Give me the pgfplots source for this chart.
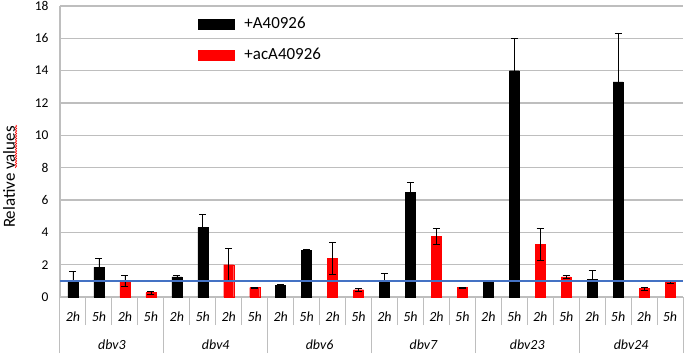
\documentclass[border=0pt]{standalone}
\usepackage{pgfplots}
\pgfplotsset{compat=1.18}
\usepackage{fontspec}
\setmainfont{Carlito}
\usetikzlibrary{decorations.pathmorphing}
\definecolor{gridgray}{RGB}{190,190,190}
\definecolor{xlblue}{RGB}{68,114,196}
\definecolor{xlred}{RGB}{255,0,0}
\pgfplotsset{rectlegend/.style={legend image code/.code={\fill[##1] (0bp,-5bp) rectangle (36bp,5bp);}}}
\begin{document}
\begin{tikzpicture}
\useasboundingbox (-60bp,-58bp) rectangle (625bp,297bp);
\begin{axis}[
  at={(0,0)}, anchor=south west,
  scale only axis, width=623bp, height=291bp,
  xmin=0.5, xmax=24.5, ymin=0, ymax=18,
  clip=false,
  ytick={0,2,...,18},
  ymajorgrids, grid style={gridgray, line width=1.2bp},
  axis x line*=bottom, axis y line*=left,
  x axis line style={draw=none},
  y axis line style={gridgray, line width=1.2bp, -},
  ytick style={draw=none},
  /pgf/number format/assume math mode=true,
  yticklabel style={font=\fontsize{13.5}{13.5}\selectfont, xshift=-8bp},
  xtick={1,...,24},
  xticklabels={2h,5h,2h,5h,2h,5h,2h,5h,2h,5h,2h,5h,2h,5h,2h,5h,2h,5h,2h,5h,2h,5h,2h,5h},
  xticklabel style={font=\fontsize{14}{14}\selectfont\itshape, anchor=center, yshift=-20bp},
  tick align=outside,
  major tick length=0pt,
  minor xtick={1.5,2.5,3.5,5.5,6.5,7.5,9.5,10.5,11.5,13.5,14.5,15.5,17.5,18.5,19.5,21.5,22.5,23.5},
  minor tick length=28bp,
  minor x tick style={gridgray, line width=1bp},
  extra x ticks={0.5,4.5,8.5,12.5,16.5,20.5,24.5},
  extra x tick labels={},
  extra x tick style={major tick length=56bp, tick style={gridgray, line width=1bp}},
  ylabel={Relative values},
  ylabel style={font=\fontsize{17}{17}\selectfont, at={(axis description cs:-0.0819,0.412)}, anchor=center},
  ybar, bar width=10bp, bar shift=0pt,
  legend style={at={(0.2215,0.962)}, anchor=north west, draw=none, fill=none, inner sep=0pt,
    font=\fontsize{17}{17}\selectfont, row sep=18bp, column sep=10bp,
    nodes={inner sep=0pt}},
  legend cell align=left,
]
\addplot[fill=black, draw=black, line width=0.3bp, rectlegend,
  error bars/.cd, y dir=both, y explicit,
  error bar style={black, line width=0.6bp},
  error mark options={rotate=90, black, mark size=3.5bp, line width=0.6bp}]
coordinates {
(1,1.05) +- (0,0.54)
(2,1.84) +- (0,0.53)
(5,1.24) +- (0,0.08)
(6,4.29) +- (0,0.84)
(9,0.72) +- (0,0.06)
(10,2.87) +- (0,0.10)
(13,0.95) +- (0,0.50)
(14,6.47) +- (0,0.62)
(17,1.01) +- (0,0.02)
(18,14.0) +- (0,2.0)
(21,1.11) +- (0,0.52)
(22,13.31) +- (0,3.02)
};
\addlegendentry{+A40926}
\addplot[fill=xlred, draw=xlred, line width=0.3bp, rectlegend,
  error bars/.cd, y dir=both, y explicit,
  error bar style={black, line width=0.6bp},
  error mark options={rotate=90, black, mark size=3.5bp, line width=0.6bp}]
coordinates {
(3,1.01) +- (0,0.33)
(4,0.27) +- (0,0.10)
(7,2.00) +- (0,1.00)
(8,0.58) +- (0,0.03)
(11,2.41) +- (0,0.99)
(12,0.45) +- (0,0.08)
(15,3.76) +- (0,0.48)
(16,0.58) +- (0,0.02)
(19,3.24) +- (0,1.00)
(20,1.24) +- (0,0.08)
(23,0.52) +- (0,0.08)
(24,0.93) +- (0,0.08)
};
\addlegendentry{+acA40926}
\addplot[sharp plot, xlblue, line width=1.4bp, forget plot] coordinates {(0.5,1) (24.5,1)};
\node[font=\fontsize{14}{14}\selectfont\itshape] at (axis cs:2.5,0) [yshift=-48bp] {dbv3};
\node[font=\fontsize{14}{14}\selectfont\itshape] at (axis cs:6.5,0) [yshift=-48bp] {dbv4};
\node[font=\fontsize{14}{14}\selectfont\itshape] at (axis cs:10.5,0) [yshift=-48bp] {dbv6};
\node[font=\fontsize{14}{14}\selectfont\itshape] at (axis cs:14.5,0) [yshift=-48bp] {dbv7};
\node[font=\fontsize{14}{14}\selectfont\itshape] at (axis cs:18.5,0) [yshift=-48bp] {dbv23};
\node[font=\fontsize{14}{14}\selectfont\itshape] at (axis cs:22.5,0) [yshift=-48bp] {dbv24};
\end{axis}
\draw[red, line width=0.6bp, decorate, decoration={snake, amplitude=0.7bp, segment length=2.5bp}] (-44bp,129bp) -- (-44bp,172bp);
\end{tikzpicture}
\end{document}
